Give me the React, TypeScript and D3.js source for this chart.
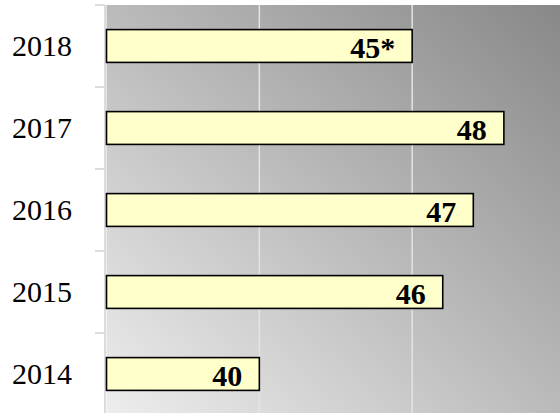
import React from "react";
import * as d3 from "d3";

const years = ["2018", "2017", "2016", "2015", "2014"];
const values = [45, 48, 47, 46, 40];
const valueLabels = ["45*", "48", "47", "46", "40"];
const gridTicks = [40, 45, 50];

const W = 560;
const H = 413;
const FONT = "'Times New Roman', 'Liberation Serif', Times, serif";

export default function App() {
  const x = d3.scaleLinear().domain([35, 50]).range([106.5, 565]);
  const y = d3
    .scaleBand<string>()
    .domain(years)
    .range([5, 415])
    .paddingInner(0.6)
    .paddingOuter(0.3);
  const step = y.step();
  const bw = y.bandwidth();
  const boundaries = years.map((yr) => (y(yr) as number) + bw / 2 - step / 2);
  boundaries.push((y(years[years.length - 1]) as number) + bw / 2 + step / 2);

  return (
    <svg
      width={W}
      height={H}
      style={{ position: "absolute", left: 0, top: 0, display: "block" }}
    >
      <defs>
        <linearGradient id="bg" x1="0" y1="1" x2="1" y2="0">
          <stop offset="0%" stopColor="#ededed" />
          <stop offset="100%" stopColor="#888888" />
        </linearGradient>
      </defs>
      <rect x={0} y={0} width={W} height={H} fill="#ffffff" />
      <rect
        x={x(35)}
        y={5}
        width={W - x(35)}
        height={H - 5}
        fill="url(#bg)"
      />
      {gridTicks.map((t) => (
        <line
          key={t}
          x1={x(t)}
          x2={x(t)}
          y1={5}
          y2={H}
          stroke="#e4e4e4"
          strokeWidth={1.5}
        />
      ))}
      <line x1={105} x2={105} y1={5} y2={H} stroke="#dcdcdc" strokeWidth={2} />
      {boundaries.map((b, i) => (
        <line
          key={i}
          x1={95}
          x2={105}
          y1={b}
          y2={b}
          stroke="#dcdcdc"
          strokeWidth={2}
        />
      ))}
      {years.map((yr, i) => {
        const yy = y(yr) as number;
        const cy = yy + bw / 2;
        return (
          <g key={yr}>
            <rect
              x={x(35)}
              y={yy}
              width={x(values[i]) - x(35)}
              height={bw}
              fill="#ffffcc"
              stroke="#000"
              strokeWidth={1.6}
            />
            <text
              x={72}
              y={cy + 10}
              textAnchor="end"
              style={{ fontFamily: FONT, fontSize: "30px" }}
              fill="#000"
            >
              {yr}
            </text>
            <text
              x={x(values[i]) - 17}
              y={cy + 12}
              textAnchor="end"
              style={{ fontFamily: FONT, fontSize: "30px", fontWeight: "bold" }}
              fill="#000"
            >
              {valueLabels[i]}
            </text>
          </g>
        );
      })}
    </svg>
  );
}
